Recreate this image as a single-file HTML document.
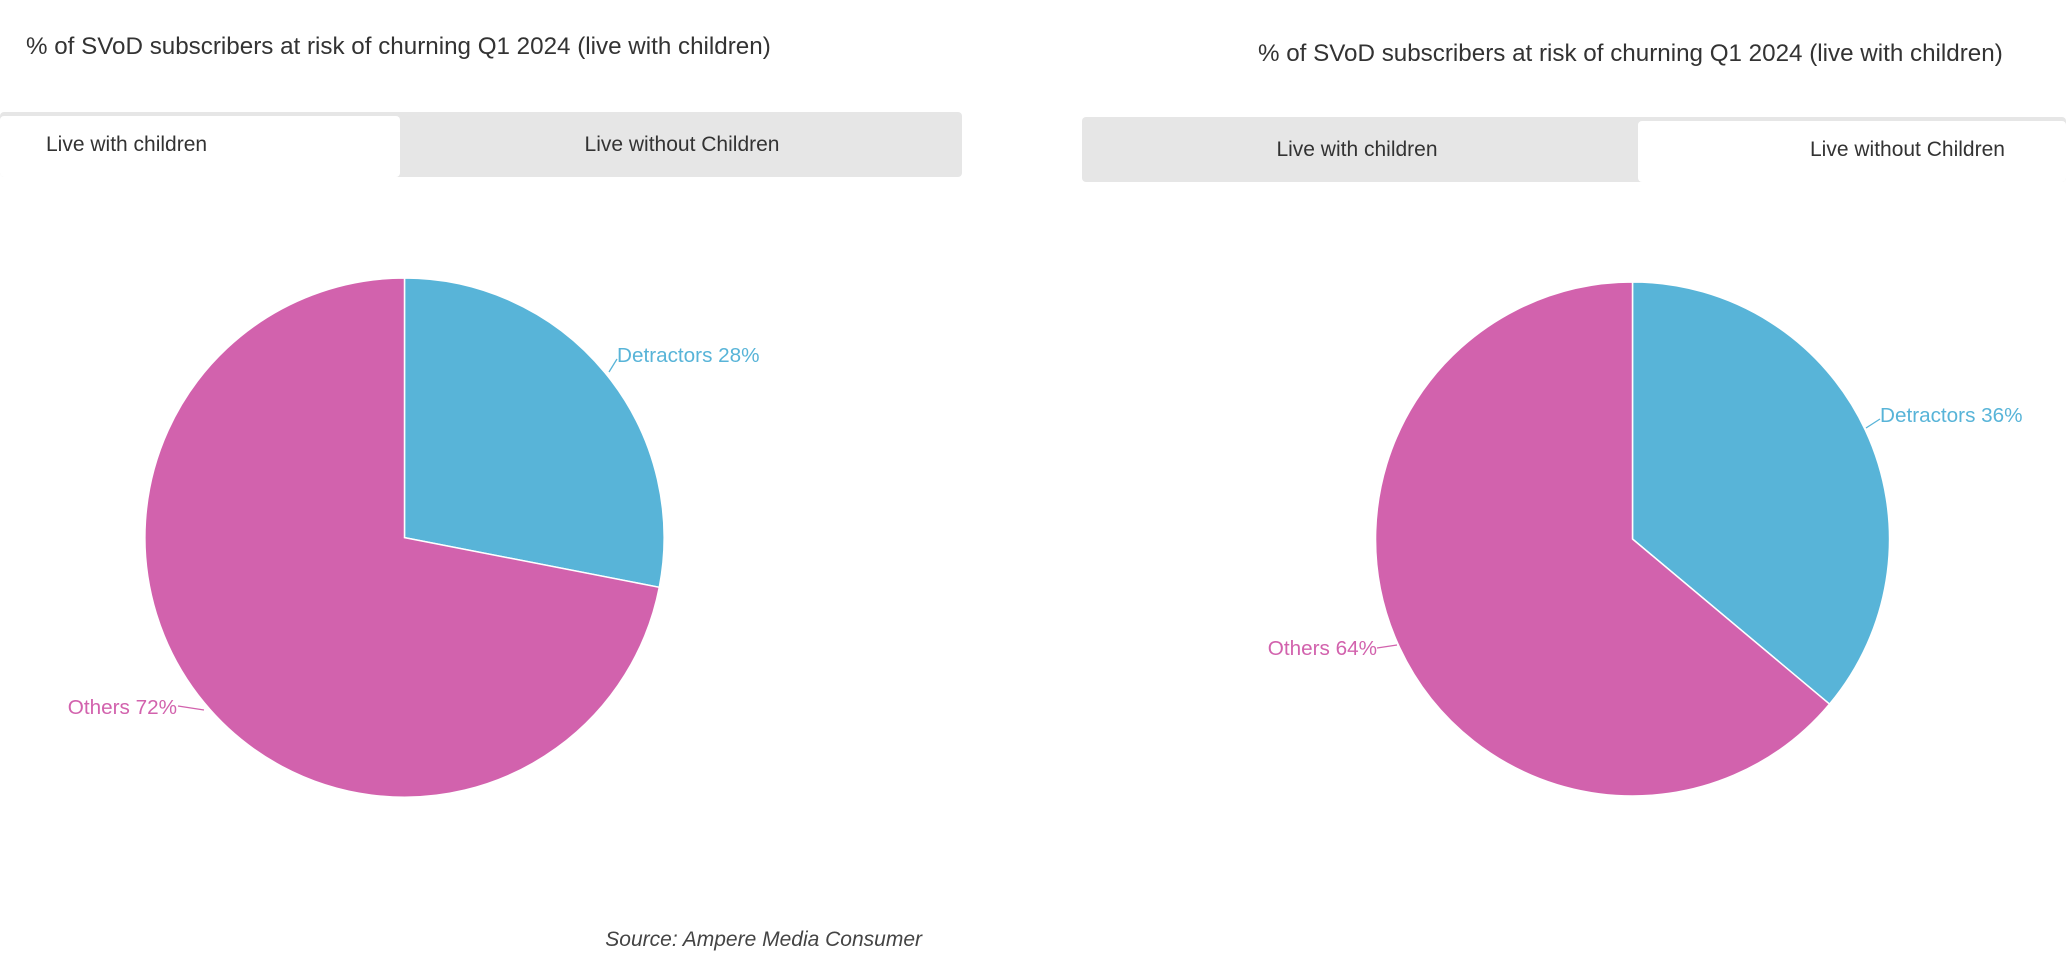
<!DOCTYPE html>
<html><head><meta charset="utf-8"><style>
html,body{margin:0;padding:0;background:#fff;width:2066px;height:964px;overflow:hidden}
svg text{font-family:"Liberation Sans",sans-serif}
</style></head><body>
<svg width="2066" height="964" xmlns="http://www.w3.org/2000/svg">
<text x="26" y="54" font-size="24.2" fill="#333">% of SVoD subscribers at risk of churning Q1 2024 (live with children)</text>
<rect x="0" y="112" width="962" height="65" rx="4" fill="#e6e6e6"/>
<rect x="0" y="116" width="400" height="61" rx="4" fill="#fff"/>
<text x="46" y="151" font-size="21" fill="#333">Live with children</text>
<text x="682" y="151" font-size="21" fill="#333" text-anchor="middle">Live without Children</text>
<g stroke="#fff" stroke-width="1.5">
<path d="M404.5,537.6 L404.5,278 A259.6,259.6 0 0 1 659.3,587.3 Z" fill="#58b4d8"/>
<path d="M404.5,537.6 L659.3,587.3 A259.6,259.6 0 1 1 404.5,278 Z" fill="#d262ad"/>
</g>
<path d="M609,372 L617,359" stroke="#58b4d8" fill="none" stroke-width="1.3"/>
<text x="617" y="362" font-size="20.7" fill="#58b4d8">Detractors 28%</text>
<path d="M204,710 L178,706" stroke="#d262ad" fill="none" stroke-width="1.3"/>
<text x="177" y="714" font-size="20.7" fill="#d262ad" text-anchor="end">Others 72%</text>
<text x="922" y="946" font-size="21" fill="#444" font-style="italic" text-anchor="end">Source: Ampere Media Consumer</text>

<text x="1258" y="61" font-size="24.2" fill="#333">% of SVoD subscribers at risk of churning Q1 2024 (live with children)</text>
<rect x="1082" y="117" width="984" height="65" rx="4" fill="#e6e6e6"/>
<rect x="1638" y="121" width="428" height="61" rx="4" fill="#fff"/>
<text x="1357" y="156" font-size="21" fill="#333" text-anchor="middle">Live with children</text>
<text x="1810" y="156" font-size="21" fill="#333">Live without Children</text>
<g stroke="#fff" stroke-width="1.5">
<path d="M1632.5,539 L1632.5,282 A257,257 0 0 1 1829.5,704.1 Z" fill="#58b4d8"/>
<path d="M1632.5,539 L1829.5,704.1 A257,257 0 1 1 1632.5,282 Z" fill="#d262ad"/>
</g>
<path d="M1866,428 L1880,419" stroke="#58b4d8" fill="none" stroke-width="1.3"/>
<text x="1880" y="422" font-size="20.7" fill="#58b4d8">Detractors 36%</text>
<path d="M1397,645 L1377,648" stroke="#d262ad" fill="none" stroke-width="1.3"/>
<text x="1377" y="655" font-size="20.7" fill="#d262ad" text-anchor="end">Others 64%</text>
</svg>
</body></html>
